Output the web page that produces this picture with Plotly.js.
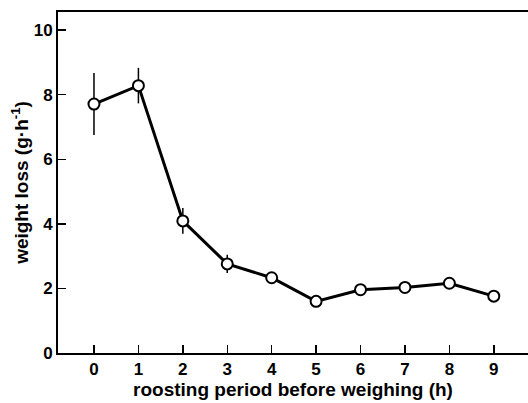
<!DOCTYPE html>
<html><head><meta charset="utf-8">
<script src="https://cdn.plot.ly/plotly-3.0.1.min.js"></script>
<style>html,body{margin:0;padding:0;background:#fff}#chart{width:528px;height:403px}</style>
</head><body><div id="chart"></div>
<script>
const hours = [0,1,2,3,4,5,6,7,8,9];
const weightLoss = [7.71,8.28,4.09,2.76,2.33,1.60,1.96,2.03,2.16,1.76];
const errors = [0.96,0.55,0.40,0.28,0.08,0,0,0,0,0];
const xTickLabels = ['0','1','2','3','4','5','6','7','8','9'];
const yTickVals = [0,2,4,6,8,10];

const font = {family:'Liberation Sans, Arial, sans-serif', color:'#000', size:17, weight:'bold'};
Plotly.newPlot('chart', [{
  x: hours, y: weightLoss, type:'scatter', mode:'lines+markers',
  line:{color:'#000', width:3},
  marker:{symbol:'circle', size:11, color:'#fff', line:{color:'#000', width:2}},
  error_y:{type:'data', array:errors, visible:true, color:'#000', thickness:1.5, width:0},
  showlegend:false, hoverinfo:'skip'
}], {
  width:528, height:403,
  margin:{l:58, r:0, t:12, b:50},
  paper_bgcolor:'#fff', plot_bgcolor:'#fff',
  font: font,
  xaxis:{range:[-0.81,9.77], tickvals:hours, ticktext:xTickLabels, ticks:'inside', ticklen:8, tickwidth:1.5, tickcolor:'#000',
    showgrid:false, zeroline:false, showline:true, linecolor:'#000', linewidth:2, mirror:true,
    tickfont:{size:17, weight:'bold'}, title:{text:'roosting period before weighing (h)', font:{size:19, weight:'bold'}, standoff:3}},
  yaxis:{range:[0,10.56], tickvals:yTickVals, ticks:'inside', ticklen:8, tickwidth:1.5, tickcolor:'#000',
    showgrid:false, zeroline:false, showline:true, linecolor:'#000', linewidth:2,
    tickfont:{size:17, weight:'bold'}, title:{text:'weight loss (g·h<sup>-1</sup>)', font:{size:19, weight:'bold'}, standoff:0}}
}, {staticPlot:true, displayModeBar:false});
</script></body></html>
